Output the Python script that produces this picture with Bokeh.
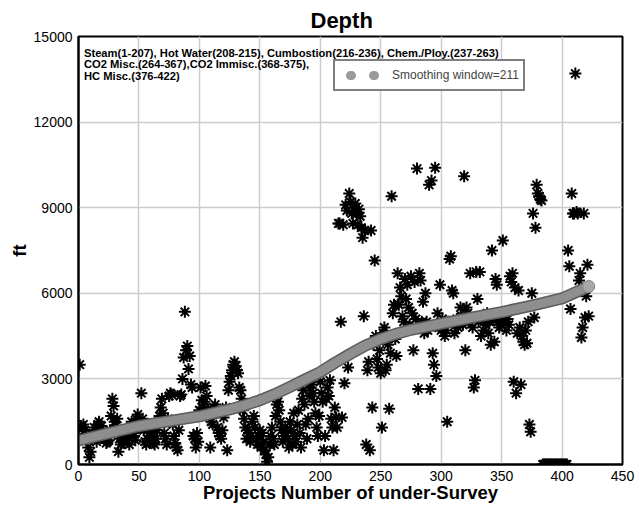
from bokeh.plotting import figure
from bokeh.models import Label, Legend, LegendItem, FixedTicker, Range1d
from bokeh.embed import file_html
from bokeh.resources import INLINE

# ---------------- data ----------------
depth = (
    [3500, 1350, 1250, 1400, 1200, 1050, 900, 600, 250, 450]
    + [900, 1100, 1300, 1000, 800, 1400, 1500, 1250, 1350, 1150]
    + [900, 1000, 750, 800, 850, 1200, 1700, 2300, 2050, 1500]
    + [1350, 1600, 450, 900, 700, 1100, 800, 750, 1000, 1200]
    + [950, 700, 1300, 1500, 1100, 1000, 850, 1600, 1750, 1500]
    + [1300, 2500, 1600, 1200, 800, 700, 900, 1100, 1400, 1250]
    + [1000, 750, 700, 900, 1200, 1500, 1700, 2000, 2300, 1800]
    + [1100, 900, 700, 1600, 2400, 2500, 2450, 1400, 1000, 750]
    + [600, 500, 1200, 2400, 2450, 3000, 3750, 5350, 4000, 4150]
    + [3350, 3800, 2800, 2700, 1000, 900, 600, 1100, 800, 1900]
    + [2700, 2250, 2000, 2200, 2750, 2400, 1950, 1700, 600, 1500]
    + [1400, 2000, 2100, 1800, 1300, 1100, 1000, 900, 1200, 1650]
    + [1900, 2000, 500, 2600, 2900, 3100, 3300, 3500, 3600, 3450]
    + [3300, 3200, 2700, 2600, 2300, 1900, 1600, 1300, 900, 1200]
    + [1100, 800, 1000, 1500, 1700, 1300, 900, 700, 1000, 1200]
    + [600, 1100, 800, 500, 350, 100, 250, 700, 1000, 1300]
    + [900, 700, 1700, 2100, 2200, 1900, 1500, 1200, 800, 1000]
    + [1300, 1100, 900, 600, 1500, 1200, 700, 1800, 1000, 800]
    + [1400, 1900, 1100, 600, 2300, 2600, 2100, 1400, 900, 1600]
    + [2400, 2700, 2800, 2500, 2200, 1800, 1300, 1000, 1700, 2900]
    + [2500, 2200, 500, 1000, 2300, 2700, 2400]
    + [2950, 1600, 1300, 500, 2000, 1650, 1300, 8450]
    + [8450, 5000, 1650, 8400, 2850, 9100, 8900, 3400, 9500, 9200, 8800,
       8450, 9000, 9150, 8800, 8400, 8950, 8700, 8300, 7950, 5200]
    + [8200, 700, 3300, 3600, 500, 8200, 2000, 4200, 7150, 4500, 3700, 3400,
       4000, 3200, 1300, 4600, 4800, 3300, 3500, 4200, 1950, 3900, 9400, 5300,
       5600, 4400, 3800]
    + [6700, 5600, 6200, 5900, 5200, 5000, 6500, 5800, 6300, 5500, 4900, 6600,
       5300, 4000, 6400, 5100, 10370, 2650, 6700, 6450, 5000, 5700, 4600, 6000,
       5000, 4700, 9800, 2650, 9950, 3900, 3500, 10400, 3100, 5300, 4800, 6300,
       4700, 5100, 4900, 4500, 4700, 1500, 5000, 7200, 7300, 6100, 6000, 4600,
       4900, 5100, 4800, 5000, 5500, 5200, 4900, 10100, 4000, 5500, 5300, 5000,
       6700, 5100, 4800, 2700, 2950, 6750, 5800, 5000, 6750, 4500, 5100, 4700,
       5200, 4900, 5300, 4600, 5000, 4200, 7500, 5100, 4300, 6500, 6300, 5000,
       4800, 5200, 4900, 7850, 5000, 5300, 4700, 5100, 4900, 6600, 6400, 6700,
       2900, 6200, 2500, 4600, 6100, 4800, 2800, 4500]
    + [4300, 4200, 4700, 4250, 5000, 1400, 1150, 6000]
    + [8800, 5150, 8300, 9800, 9500, 9400, 9300, 9250]
    + [0] * 21
    + [7500, 6950, 5450, 9500, 8800, 8800, 13700, 8850, 8800, 6450, 6700,
       4450, 4800, 8800, 5150, 5900, 7000, 5200]
)
projects = list(range(1, len(depth) + 1))

smooth_x = [1, 25, 50, 75, 100, 125, 137, 150, 162, 175, 187, 200, 212,
            225, 237, 250, 262, 275, 300, 325, 350, 375, 400, 422]
smooth_y = [850, 1100, 1350, 1520, 1690, 1930, 2070, 2250, 2460, 2720, 2970,
            3240, 3560, 3880, 4160, 4400, 4570, 4720, 4940, 5150, 5340, 5570,
            5820, 6240]

x_ticks = [0, 50, 100, 150, 200, 250, 300, 350, 400, 450]
y_ticks = [0, 3000, 6000, 9000, 12000, 15000]

note_lines = [
    "Steam(1-207), Hot Water(208-215), Cumbostion(216-236), Chem./Ploy.(237-263)",
    "CO2 Misc.(264-367),CO2 Immisc.(368-375),",
    "HC Misc.(376-422)",
]
legend_text = "Smoothing window=211"
x_title = "Projects Number of under-Survey"
y_title = "ft"

FONT = "Liberation Sans"

# frame geometry in pixels
FRAME_W, FRAME_H = 544, 428
Y_PER_PX = 15000 / FRAME_H

# ---------------- figure ----------------
p = figure(width=644, height=507, output_backend="svg", toolbar_location=None,
           x_range=Range1d(0, 450), y_range=Range1d(0, 15000),
           min_border_left=78, min_border_right=22, min_border_top=36,
           min_border_bottom=43, title="Depth")

p.title.align = "left"
p.title.offset = 232
p.title.text_font = FONT
p.title.text_font_size = "22px"
p.title.text_font_style = "bold"
p.title.text_color = "black"
p.title.standoff = 7

p.outline_line_color = "black"
p.outline_line_width = 2
p.background_fill_color = "white"
p.border_fill_color = "white"

p.xaxis.ticker = FixedTicker(ticks=x_ticks)
p.yaxis.ticker = FixedTicker(ticks=y_ticks)
for ax in (p.xaxis, p.yaxis):
    ax.axis_line_color = "black"
    ax.axis_line_width = 2
    ax.major_tick_line_color = None
    ax.minor_tick_line_color = None
    ax.major_tick_out = 0
    ax.major_tick_in = 0
    ax.minor_tick_out = 0
    ax.major_label_text_font = FONT
    ax.major_label_text_font_size = "14px"
    ax.major_label_text_color = "black"
    ax.axis_label_text_font = FONT
    ax.axis_label_text_font_style = "bold"
    ax.axis_label_text_font_size = "18.5px"
    ax.axis_label_text_color = "black"
p.xaxis.major_label_standoff = 6
p.yaxis.major_label_standoff = 6
p.xaxis.axis_label_standoff = -2
p.yaxis.axis_label_standoff = 1
p.xaxis.axis_label = x_title
p.yaxis.axis_label = y_title

p.grid.grid_line_color = "#cccccc"
p.grid.grid_line_width = 1.5

# scatter of projects
p.scatter(projects, depth, marker="asterisk", size=12, line_color="black",
          line_width=2)

# legend glyph: round-capped short dashes -> two dots (hidden under band)
dots = p.line(smooth_x, smooth_y, line_width=9, line_color="#9a9a9a",
              line_dash="1 22", line_dash_offset=12, line_cap="round")

# smoothing band
p.line(smooth_x, smooth_y, line_width=12, line_color="#5c5c5c",
       line_cap="round", line_join="round")
p.line(smooth_x, smooth_y, line_width=9, line_color="#8e8e8e",
       line_cap="round", line_join="round")
p.scatter(smooth_x[-1:], smooth_y[-1:], marker="circle", size=12,
          fill_color="#a8a8a8", line_color="#8a8a8a")

legend = Legend(items=[LegendItem(label=legend_text, renderers=[dots])],
                location=(255, 373), border_line_color="black",
                border_line_width=2, padding=4, margin=0, spacing=0,
                glyph_width=40, glyph_height=20, label_standoff=13,
                label_text_font=FONT, label_text_font_size="12px",
                background_fill_alpha=1.0)
p.add_layout(legend)

# annotation text (baselines about 16, 27.7 and 39.3 px below the frame top)
for i, line in enumerate(note_lines):
    p.add_layout(Label(x=4.5, y=15000 - (16 + 11.65 * i) * Y_PER_PX,
                       text=line, text_font=FONT, text_font_style="bold",
                       text_font_size="11.2px", text_baseline="alphabetic",
                       text_color="black"))

open("out.html", "w").write(file_html(p, INLINE))
